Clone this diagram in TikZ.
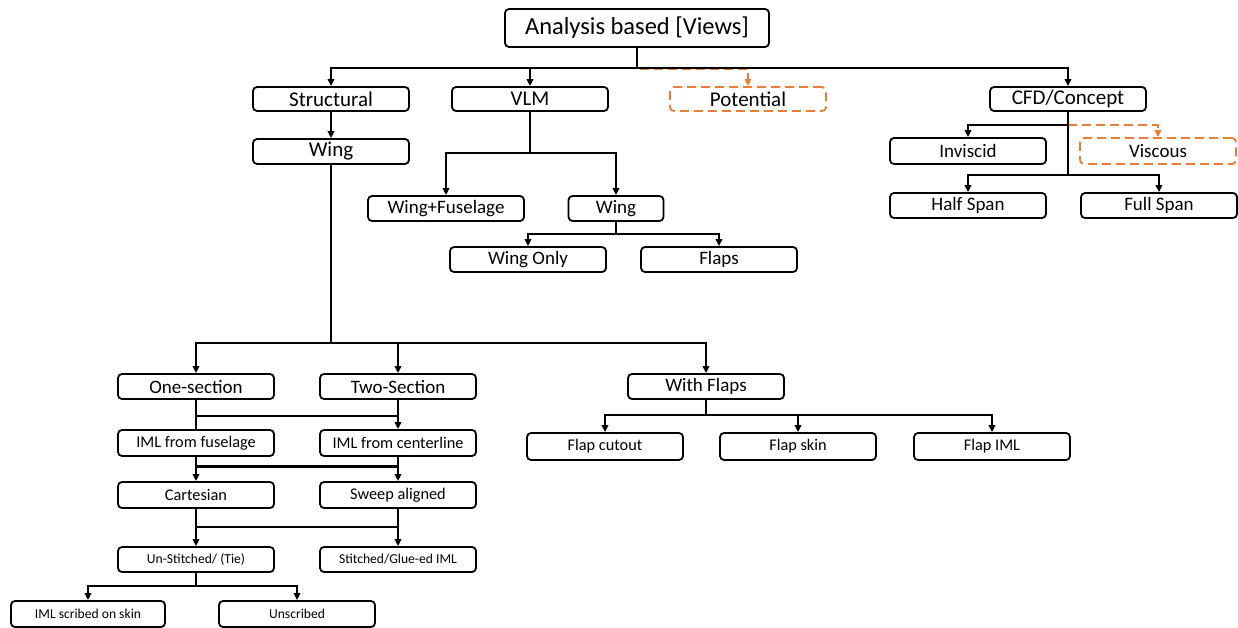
\documentclass[tikz,border=0pt]{standalone}
\usepackage{fontspec}
\setmainfont{Carlito}
\usetikzlibrary{arrows.meta}
\definecolor{accent}{RGB}{237,125,49}
\tikzset{
  box/.style={draw, rounded corners=4pt, line width=1.8pt, inner sep=0pt, minimum width=156pt, minimum height=25pt, align=center},
  dbox/.style={box, draw=accent, dash pattern=on 9pt off 5pt},
  fA/.style={font=\fontsize{24.5}{28}\selectfont},
  fB/.style={font=\fontsize{21}{24}\selectfont},
  fC/.style={font=\fontsize{19}{22}\selectfont},
  fD/.style={font=\fontsize{16.3}{19}\selectfont},
  fE/.style={font=\fontsize{13.6}{16}\selectfont},
  con/.style={line width=2pt},
  arr/.style={con, -{Triangle[length=7pt,width=6.5pt]}},
  oarr/.style={line width=2pt, draw=accent, dash pattern=on 9pt off 5pt, -{Triangle[length=7pt,width=6.5pt]}, accent},
}
\begin{document}
\begin{tikzpicture}[x=1pt,y=-1pt]
\useasboundingbox (0,0) rectangle (1238,628);
% nodes
\node[box,fA,minimum width=264pt,minimum height=38pt] (root) at (637,28) {Analysis based [Views]};
\node[box,fB,minimum height=24pt] (structural) at (331,99) {Structural};
\node[box,fB,minimum height=24pt] (vlm) at (530,99) {VLM};
\node[dbox,fB,minimum height=24pt] (potential) at (748,99) {Potential};
\node[box,fB,minimum height=24pt] (cfd) at (1068,99) {CFD/Concept};
\node[box,fB] (wingS) at (331,151.5) {Wing};
\node[box,fC] (wf) at (446,208.5) {Wing+Fuselage};
\node[box,fC,minimum width=95pt] (wingV) at (616,208.5) {Wing};
\node[box,fC] (wingonly) at (528,259.5) {Wing Only};
\node[box,fC] (flaps) at (719,259.5) {Flaps};
\node[box,fC,minimum height=26pt] (inviscid) at (968,151) {Inviscid};
\node[dbox,fC,minimum height=26pt] (viscous) at (1158,151) {Viscous};
\node[box,fC] (halfspan) at (968,205.5) {Half Span};
\node[box,fC] (fullspan) at (1159,205.5) {Full Span};
\node[box,fC] (one) at (196,386.5) {One-section};
\node[box,fC] (two) at (398,386.5) {Two-Section};
\node[box,fC] (withflaps) at (706,386.5) {With Flaps};
\node[box,fD,minimum height=26pt] (imlf) at (196,443) {IML from fuselage};
\node[box,fD,minimum height=26pt] (imlc) at (398,443) {IML from centerline};
\node[box,fD,minimum height=26pt] (cart) at (196,495) {Cartesian};
\node[box,fD,minimum height=26pt] (sweep) at (398,495) {Sweep aligned};
\node[box,fE] (unst) at (196,559.5) {Un-Stitched/ (Tie)};
\node[box,fE] (stit) at (398,559.5) {Stitched/Glue-ed IML};
\node[box,fE,minimum width=154pt,minimum height=26pt] (imls) at (88,614) {IML scribed on skin};
\node[box,fE,minimum height=26pt] (unsc) at (297,614) {Unscribed};
\node[box,fD,minimum height=27pt] (fcut) at (605,446.5) {Flap cutout};
\node[box,fD,minimum height=27pt] (fskin) at (798,446.5) {Flap skin};
\node[box,fD,minimum height=27pt] (fiml) at (992,446.5) {Flap IML};
% junctions
\coordinate (j0) at (637,68);
\coordinate (jo) at (640,69);
\coordinate (jv) at (530,153);
\coordinate (jw) at (616,234);
\coordinate (jc1) at (1068,125);
\coordinate (jc2) at (1068,175);
\coordinate (js) at (331,343);
\coordinate (jb1) at (0,416);
\coordinate (jb2) at (0,466);
\coordinate (jb3) at (0,527);
\coordinate (ju) at (196,586);
\coordinate (jf) at (706,415);
% orange connectors
\draw[oarr] (jo) -| (potential.north);
\draw[oarr] (jc1) -| (viscous.north);
% black connectors
\draw[con] (root.south) -- (j0);
\draw[arr] (j0) -| (structural.north);
\draw[arr] (j0) -| (vlm.north);
\draw[arr] (j0) -| (cfd.north);
\draw[arr] (structural.south) -- (wingS.north);
\draw[con] (vlm.south) -- (jv);
\draw[arr] (jv) -| (wf.north);
\draw[arr] (jv) -| (wingV.north);
\draw[con] (wingV.south) -- (jw);
\draw[arr] (jw) -| (wingonly.north);
\draw[arr] (jw) -| (flaps.north);
\draw[con] (cfd.south) -- (jc2);
\draw[arr] (jc1) -| (inviscid.north);
\draw[arr] (jc2) -| (halfspan.north);
\draw[arr] (jc2) -| (fullspan.north);
\draw[con] (wingS.south) -- (js);
\draw[arr] (js) -| (one.north);
\draw[arr] (js) -| (two.north);
\draw[arr] (js) -| (withflaps.north);
\draw[con] (one.south) -- (imlf.north);
\draw[con] (one.south |- jb1) -- (two.south |- jb1);
\draw[arr] (two.south) -- (imlc.north);
\draw[arr] (imlf.south) -- (cart.north);
\draw[arr] (imlc.south) -- (sweep.north);
\draw[line width=3pt] (imlf.south |- jb2) -- (imlc.south |- jb2);
\draw[arr] (cart.south) -- (unst.north);
\draw[arr] (sweep.south) -- (stit.north);
\draw[line width=2.5pt] (cart.south |- jb3) -- (sweep.south |- jb3);
\draw[con] (unst.south) -- (ju);
\draw[arr] (ju) -| (imls.north);
\draw[arr] (ju) -| (unsc.north);
\draw[con] (withflaps.south) -- (jf);
\draw[arr] (jf) -| (fcut.north);
\draw[arr] (jf) -| (fskin.north);
\draw[arr] (jf) -| (fiml.north);
\end{tikzpicture}
\end{document}
